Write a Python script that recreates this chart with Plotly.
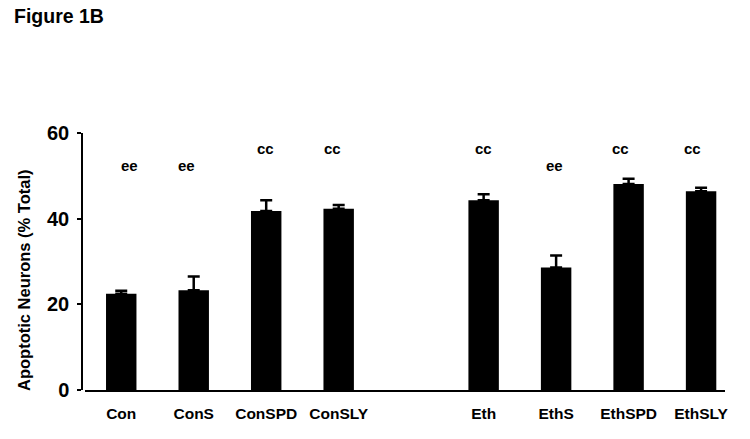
import plotly.graph_objects as go

categories = ["Con", "ConS", "ConSPD", "ConSLY", "Eth", "EthS", "EthSPD", "EthSLY"]
values = [22.5, 23.3, 41.8, 42.3, 44.3, 28.6, 48.1, 46.4]
errors = [0.7, 3.2, 2.5, 0.9, 1.4, 2.8, 1.2, 0.8]
sig_labels = ["ee", "ee", "cc", "cc", "cc", "ee", "cc", "cc"]
sig_levels = [52.5, 52.5, 56.3, 56.3, 56.3, 52.5, 56.3, 56.3]
y_ticks = [0, 20, 40, 60]

# layout helpers: second group shifted by one empty slot
xpos = [i + (1 if i >= 4 else 0) for i in range(len(categories))]
label_shift = [8, -7, -1, -6, 0, -2, -8, -9]

fig = go.Figure()
fig.add_trace(go.Bar(
    x=xpos, y=values, width=0.42,
    marker=dict(color="black", line=dict(width=0)),
    error_y=dict(type="data", array=errors, arrayminus=[0] * len(errors),
                 symmetric=False, color="black", thickness=2.5, width=6),
    showlegend=False,
))

W, H = 750, 439
ml, mr, mt, mb = 82, 25, 133, 44
pw, ph = W - ml - mr, H - mt - mb


def px(fx):
    return (fx - ml) / pw


def py(fy):
    return (H - mb - fy) / ph


ARIAL = "Arial, Liberation Sans, sans-serif"

fig.update_layout(
    width=W, height=H,
    margin=dict(l=ml, r=mr, t=mt, b=mb, autoexpand=False),
    plot_bgcolor="white", paper_bgcolor="white",
    xaxis=dict(
        range=[-0.5, 8.33], domain=[3 / pw, 1],
        tickvals=xpos, ticktext=categories,
        showline=True, linecolor="black", linewidth=1.5,
        showgrid=False, zeroline=False, automargin=False,
        ticks="outside", ticklen=0, tickcolor="white",
        tickfont=dict(family=ARIAL, size=15.5, color="black", weight="bold"),
        ticklabelstandoff=9,
    ),
    yaxis=dict(
        range=[0, 60], domain=[5 / ph, 1],
        anchor="free", position=0,
        tickvals=y_ticks,
        showline=True, linecolor="black", linewidth=1.5,
        showgrid=False, zeroline=False, automargin=False,
        ticks="outside", ticklen=4, tickwidth=1.5, tickcolor="black",
        tickfont=dict(family="Liberation Sans Narrow, Arial Narrow, Arial, sans-serif",
                      size=20, color="black", weight="bold"),
        ticklabelstandoff=4,
    ),
    annotations=[
        dict(text="Figure 1B", xref="paper", yref="paper",
             x=px(12), y=py(16), xanchor="left", yanchor="middle",
             showarrow=False,
             font=dict(family=ARIAL, size=19.5, color="black", weight="bold")),
        dict(text="Apoptotic Neurons (% Total)", xref="paper", yref="paper",
             x=px(24), y=py(280), xanchor="center", yanchor="middle",
             textangle=-90, showarrow=False,
             font=dict(family=ARIAL, size=16.5, color="black", weight="bold")),
    ] + [
        dict(text=t, x=x, y=y, xref="x", yref="y", xshift=s, showarrow=False,
             xanchor="center", yanchor="middle",
             font=dict(family=ARIAL, size=15, color="black", weight="bold"))
        for t, x, y, s in zip(sig_labels, xpos, sig_levels, label_shift)
    ],
)

fig.write_html("out.html", config={"displayModeBar": False},
               post_script="document.body.style.margin='0';")
